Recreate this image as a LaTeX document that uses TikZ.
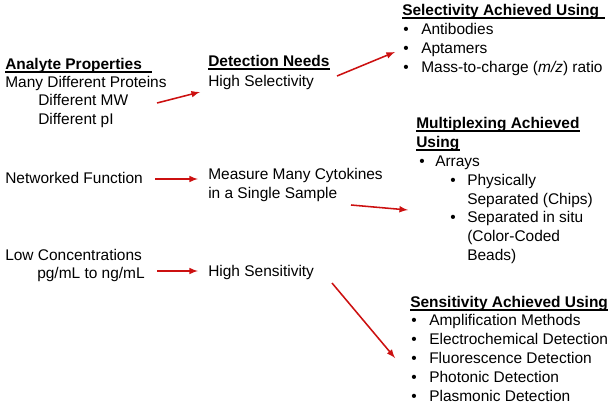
\documentclass[tikz,border=0pt]{standalone}
\usepackage{fontspec}
\setmainfont{Liberation Sans}
\definecolor{arrowred}{RGB}{204,16,16}
\begin{document}
\begin{tikzpicture}[
    font=\fontsize{11pt}{13.5pt}\selectfont,
    txt/.style={anchor=base west, inner sep=0pt},
    head/.style={txt, font=\fontsize{11pt}{13.5pt}\selectfont\bfseries},
    uline/.style={line width=0.9pt},
    redarrow/.style={->, >=latex, draw=arrowred, line width=1.1pt}
    ]
        \useasboundingbox (0,0) rectangle (15.35,10.15);

        \node[head] (ap) at (0.125,8.425) {Analyte Properties};
        \node[txt] (ap1) at (0.125,7.975) {Many Different Proteins};
        \node[txt] (ap2) at (0.95,7.525) {Different MW};
        \node[txt] (ap3) at (0.95,7.05) {Different pI};
        \node[txt] (nf) at (0.125,5.575) {Networked Function};
        \node[txt] (lc1) at (0.125,3.65) {Low Concentrations};
        \node[txt] (lc2) at (0.925,3.2) {pg/mL to ng/mL};

        \node[head] (dn) at (5.2,8.5) {Detection Needs};
        \node[txt] (hsel) at (5.2,8.0) {High Selectivity};
        \node[txt] (mm1) at (5.2,5.675) {Measure Many Cytokines};
        \node[txt] (mm2) at (5.2,5.2) {in a Single Sample};
        \node[txt] (hsen) at (5.2,3.25) {High Sensitivity};

        \node[head] (sel) at (10.05,9.775) {Selectivity Achieved Using};
        \node[txt] (selb1) at (10.075,9.3) {•};
        \node[txt] (sel1) at (10.525,9.3) {Antibodies};
        \node[txt] (selb2) at (10.075,8.825) {•};
        \node[txt] (sel2) at (10.525,8.825) {Aptamers};
        \node[txt] (selb3) at (10.075,8.35) {•};
        \node[txt] (sel3) at (10.525,8.35) {Mass-to-charge (\textit{m/z}) ratio};

        \node[head] (mux1) at (10.4,6.95) {Multiplexing Achieved};
        \node[head] (mux2) at (10.4,6.475) {Using};
        \node[txt] (muxb1) at (10.475,6.0) {•};
        \node[txt] (mux3) at (10.875,6.0) {Arrays};
        \node[txt] (muxb2) at (11.25,5.525) {•};
        \node[txt] (mux4) at (11.675,5.525) {Physically};
        \node[txt] (mux5) at (11.675,5.05) {Separated (Chips)};
        \node[txt] (muxb3) at (11.25,4.6) {•};
        \node[txt] (mux6) at (11.675,4.6) {Separated in situ};
        \node[txt] (mux7) at (11.675,4.125) {(Color-Coded};
        \node[txt] (mux8) at (11.675,3.65) {Beads)};

        \node[head] (sen) at (10.25,2.475) {Sensitivity Achieved Using};
        \node[txt] (senb1) at (10.275,2.025) {•};
        \node[txt] (sen1) at (10.725,2.025) {Amplification Methods};
        \node[txt] (senb2) at (10.275,1.55) {•};
        \node[txt] (sen2) at (10.725,1.55) {Electrochemical Detection};
        \node[txt] (senb3) at (10.275,1.075) {•};
        \node[txt] (sen3) at (10.725,1.075) {Fluorescence Detection};
        \node[txt] (senb4) at (10.275,0.6) {•};
        \node[txt] (sen4) at (10.725,0.6) {Photonic Detection};
        \node[txt] (senb5) at (10.275,0.125) {•};
        \node[txt] (sen5) at (10.725,0.125) {Plasmonic Detection};

        \draw[uline] ([yshift=-2.2pt]ap.base west) -- ([yshift=-2.2pt,xshift=7pt]ap.base east);
        \draw[uline] ([yshift=-2.2pt]dn.base west) -- ([yshift=-2.2pt]dn.base east);
        \draw[uline] ([yshift=-2.2pt]sel.base west) -- ([yshift=-2.2pt,xshift=4pt]sel.base east);
        \draw[uline] ([yshift=-2.2pt]mux1.base west) -- ([yshift=-2.2pt]mux1.base east);
        \draw[uline] ([yshift=-2.2pt]mux2.base west) -- ([yshift=-2.2pt]mux2.base east);
        \draw[uline] ([yshift=-2.2pt]sen.base west) -- ([yshift=-2.2pt]sen.base east);

        \coordinate (a1s) at (3.925,7.575);
        \coordinate (a1e) at (5.0,7.85);
        \coordinate (a2s) at (8.425,8.25);
        \coordinate (a2e) at (9.875,8.85);
        \coordinate (a3s) at (3.875,5.675);
        \coordinate (a3e) at (4.95,5.675);
        \coordinate (a4s) at (8.775,5.025);
        \coordinate (a4e) at (10.2,4.9);
        \coordinate (a5s) at (3.925,3.375);
        \coordinate (a5e) at (4.95,3.375);
        \coordinate (a6s) at (8.3,3.075);
        \coordinate (a6e) at (9.875,1.2);

        \draw[redarrow] (a1s) -- (a1e);
        \draw[redarrow] (a2s) -- (a2e);
        \draw[redarrow] (a3s) -- (a3e);
        \draw[redarrow] (a4s) -- (a4e);
        \draw[redarrow] (a5s) -- (a5e);
        \draw[redarrow] (a6s) -- (a6e);
    \end{tikzpicture}
\end{document}
